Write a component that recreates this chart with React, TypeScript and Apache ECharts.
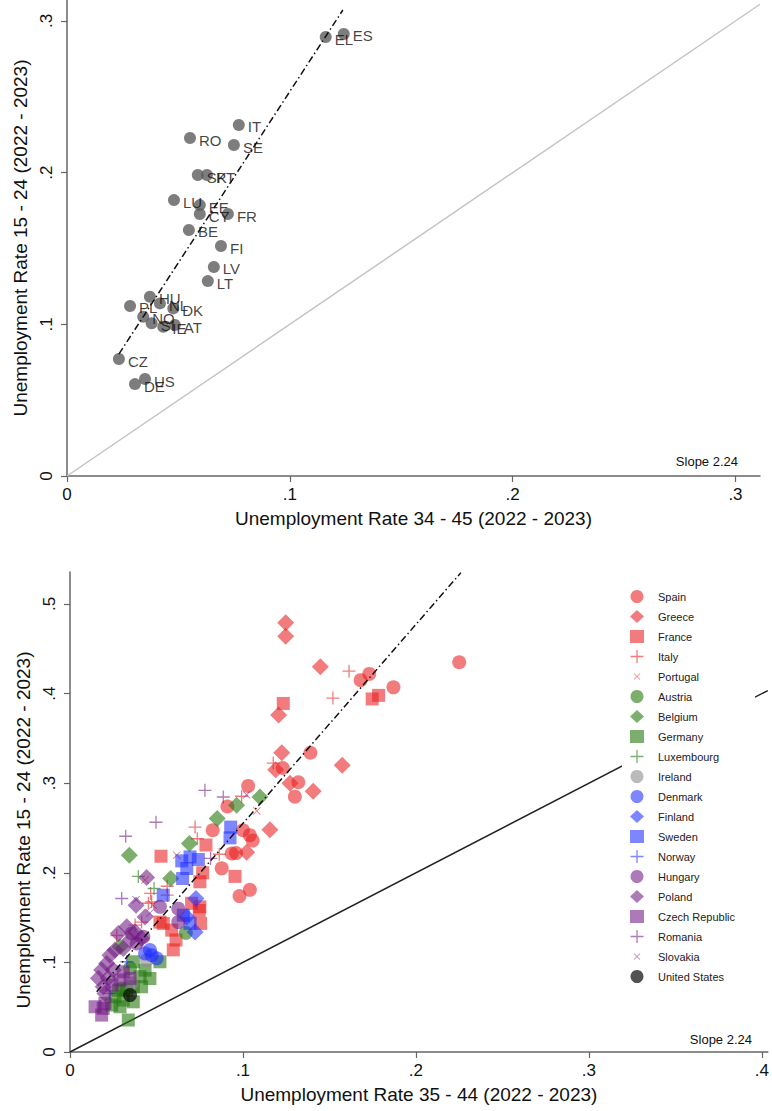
import React, { useEffect, useRef } from "react";
import * as echarts from "echarts";

// ---------- Top panel: country averages ----------
const topCodes = ["EL", "ES", "IT", "RO", "SE", "SK", "PT", "LU", "EE", "CY", "FR", "BE", "FI", "LV", "LT", "HU", "NL", "PL", "DK", "NO", "SI", "IE", "AT", "CZ", "US", "DE"];
const topX = [0.1161, 0.1242, 0.0771, 0.0552, 0.0749, 0.0587, 0.0628, 0.048, 0.0596, 0.0596, 0.0722, 0.0547, 0.0691, 0.0659, 0.0632, 0.0372, 0.0417, 0.0283, 0.0477, 0.0342, 0.038, 0.0432, 0.0484, 0.0233, 0.035, 0.0305];
const topY = [0.2894, 0.2914, 0.2314, 0.2228, 0.2182, 0.1984, 0.1984, 0.1819, 0.1786, 0.1727, 0.1727, 0.1622, 0.1516, 0.1378, 0.1285, 0.1182, 0.1138, 0.1121, 0.1105, 0.105, 0.1007, 0.0984, 0.0995, 0.0771, 0.0639, 0.0606];
const topFitX = [0.0233, 0.1238];
const topFitY = [0.0804, 0.3072];
const topDiag = [0, 0.311];

// ---------- Bottom panel: country-quarter observations ----------
const spain = [[0.225, 0.435], [0.173, 0.422], [0.168, 0.415], [0.187, 0.407], [0.139, 0.334], [0.123, 0.317], [0.132, 0.301], [0.103, 0.297], [0.130, 0.285], [0.091, 0.274], [0.0825, 0.2475], [0.100, 0.2475], [0.104, 0.242], [0.1056, 0.236], [0.0935, 0.2215], [0.096, 0.222], [0.0877, 0.205], [0.104, 0.181], [0.098, 0.174]];
const greece = [[0.1247, 0.479], [0.1247, 0.464], [0.1447, 0.430], [0.1206, 0.376], [0.1224, 0.334], [0.1189, 0.315], [0.1574, 0.320], [0.1406, 0.291], [0.1272, 0.300], [0.1156, 0.248], [0.1021, 0.223]];
const france = [[0.1233, 0.389], [0.1784, 0.398], [0.1747, 0.394], [0.0786, 0.231], [0.0526, 0.2185], [0.0767, 0.200], [0.0954, 0.196], [0.0751, 0.190], [0.0751, 0.162], [0.0703, 0.166], [0.0747, 0.158], [0.0755, 0.1435], [0.0539, 0.1435], [0.0588, 0.136], [0.0613, 0.125], [0.0597, 0.114], [0.052, 0.145]];
const italy = [[0.1613, 0.425], [0.152, 0.395], [0.1175, 0.3225], [0.0992, 0.2854], [0.0723, 0.251], [0.0736, 0.238], [0.0863, 0.2207], [0.0562, 0.185], [0.0466, 0.177], [0.0562, 0.175], [0.0472, 0.1676], [0.0453, 0.166], [0.0414, 0.145], [0.027, 0.130], [0.0376, 0.1416]];
const portugal = [[0.0617, 0.2196], [0.108, 0.269], [0.048, 0.164], [0.0434, 0.192]];
const austria = [[0.067, 0.133], [0.030, 0.071], [0.0347, 0.0936]];
const belgium = [[0.1098, 0.2846], [0.0963, 0.2754], [0.0851, 0.2605], [0.069, 0.2327], [0.0343, 0.2196], [0.0582, 0.1936], [0.0289, 0.1174]];
const germany = [[0.052, 0.1007], [0.0366, 0.1007], [0.0405, 0.084], [0.0462, 0.082], [0.0414, 0.0728], [0.0366, 0.0728], [0.0279, 0.069], [0.0328, 0.069], [0.026, 0.0617], [0.0308, 0.058], [0.0366, 0.056], [0.0241, 0.0524], [0.0289, 0.0505], [0.0337, 0.0357], [0.0434, 0.0914]];
const luxembourg = [[0.0486, 0.1825], [0.0395, 0.196]];
const ireland = [[0.0443, 0.1026], [0.0357, 0.0766]];
const denmark = [[0.0462, 0.1137], [0.0434, 0.110], [0.0501, 0.1045], [0.0472, 0.108]];
const finland = [[0.0728, 0.1713], [0.0675, 0.1508], [0.0723, 0.134]];
const sweden = [[0.0929, 0.251], [0.0925, 0.239], [0.0694, 0.2177], [0.0742, 0.2148], [0.0675, 0.2048], [0.0651, 0.1936], [0.0646, 0.2133], [0.0539, 0.175], [0.0655, 0.1527], [0.0694, 0.1435]];
const norway = [[0.0231, 0.0654], [0.0328, 0.1007]];
const hungary = [[0.052, 0.162], [0.0626, 0.160], [0.0626, 0.145], [0.0357, 0.1323], [0.0424, 0.1285], [0.0386, 0.1212]];
const poland = [[0.0443, 0.1948], [0.0382, 0.1639], [0.0434, 0.1508], [0.0328, 0.1397], [0.0376, 0.1341], [0.0279, 0.1323], [0.0414, 0.1268], [0.0347, 0.1249], [0.0308, 0.1156], [0.026, 0.1137], [0.0231, 0.1081], [0.0212, 0.0989], [0.0183, 0.0914], [0.025, 0.0914], [0.0164, 0.0822], [0.0221, 0.0822], [0.0192, 0.0728], [0.0202, 0.0654]];
const czech = [[0.0308, 0.0895], [0.0289, 0.0803], [0.0347, 0.0822], [0.0202, 0.0543], [0.0145, 0.0505], [0.0192, 0.0487], [0.0183, 0.0412], [0.0243, 0.0747]];
const romania = [[0.078, 0.292], [0.0886, 0.2846], [0.0497, 0.2564], [0.0322, 0.2408], [0.0813, 0.216], [0.0299, 0.1713]];
const slovakia = [[0.1021, 0.287], [0.0382, 0.170], [0.0462, 0.155]];
const unitedStates = [[0.0347, 0.0635]];
const bottomFitX = [0.0154, 0.226];
const bottomFitY = [0.0672, 0.535];
const bottomDiag = [0, 0.4034];

const PLUS = "path://M4.5,0H5.5V4.5H10V5.5H5.5V10H4.5V5.5H0V4.5H4.5Z";
const CROSS = "path://M0,0.8L0.8,0L5,4.2L9.2,0L10,0.8L5.8,5L10,9.2L9.2,10L5,5.8L0.8,10L0,9.2L4.2,5Z";
// legend-only icon: same cross, padded with invisible corner points so it draws smaller
const CROSS_ICON = "path://M-5,-5L-5,-5M15,15L15,15M0,0.8L0.8,0L5,4.2L9.2,0L10,0.8L5.8,5L10,9.2L9.2,10L5,5.8L0.8,10L0,9.2L4.2,5Z";

const RED = "rgba(232,28,30,0.72)";
const GREEN = "rgba(36,120,14,0.75)";
const GREY = "rgba(140,140,140,0.75)";
const BLUE = "rgba(30,45,255,0.72)";
const PURPLE = "rgba(112,24,132,0.72)";
const BLACK = "rgba(0,0,0,0.85)";

const countries = [
  { name: "Spain", data: spain, symbol: "circle", size: 14, color: RED },
  { name: "Greece", data: greece, symbol: "diamond", size: 17, color: RED },
  { name: "France", data: france, symbol: "rect", size: 13, color: RED },
  { name: "Italy", data: italy, symbol: PLUS, size: 13, color: RED },
  { name: "Portugal", data: portugal, symbol: CROSS, size: 8, color: RED },
  { name: "Austria", data: austria, symbol: "circle", size: 14, color: GREEN },
  { name: "Belgium", data: belgium, symbol: "diamond", size: 17, color: GREEN },
  { name: "Germany", data: germany, symbol: "rect", size: 13, color: GREEN },
  { name: "Luxembourg", data: luxembourg, symbol: PLUS, size: 13, color: GREEN },
  { name: "Ireland", data: ireland, symbol: "circle", size: 14, color: GREY },
  { name: "Denmark", data: denmark, symbol: "circle", size: 14, color: BLUE },
  { name: "Finland", data: finland, symbol: "diamond", size: 17, color: BLUE },
  { name: "Sweden", data: sweden, symbol: "rect", size: 13, color: BLUE },
  { name: "Norway", data: norway, symbol: PLUS, size: 13, color: BLUE },
  { name: "Hungary", data: hungary, symbol: "circle", size: 14, color: PURPLE },
  { name: "Poland", data: poland, symbol: "diamond", size: 17, color: PURPLE },
  { name: "Czech Republic", data: czech, symbol: "rect", size: 13, color: PURPLE },
  { name: "Romania", data: romania, symbol: PLUS, size: 13, color: PURPLE },
  { name: "Slovakia", data: slovakia, symbol: CROSS, size: 8, color: PURPLE },
  { name: "United States", data: unitedStates, symbol: "circle", size: 14, color: BLACK },
];

const FONT = "Liberation Sans, Arial, Helvetica, sans-serif";
const fmt = (v: number) => {
  const r = Math.round(v * 10) / 10;
  return r === 0 ? "0" : String(r).replace(/^0/, "");
};

const axisCommon = {
  type: "value" as const,
  interval: 0.1,
  min: 0,
  splitLine: { show: false },
  axisLine: { show: true, lineStyle: { color: "#666", width: 1.5 } },
  axisTick: { show: true, length: 6, lineStyle: { color: "#666", width: 1.2 } },
  nameTextStyle: { fontSize: 19, color: "#111", fontFamily: FONT },
};
const xLabel = { formatter: fmt, fontSize: 17, color: "#111", fontFamily: FONT, margin: 10, showMaxLabel: false };
const yLabel = { formatter: fmt, fontSize: 17, color: "#111", fontFamily: FONT, rotate: 90, margin: 12, showMaxLabel: false };

export default function App() {
  const ref = useRef<HTMLDivElement>(null);
  useEffect(() => {
    if (!ref.current) return;
    const chart = echarts.init(ref.current, null, { renderer: "svg" });
    const option: any = {
      animation: false,
      backgroundColor: "#fff",
      grid: [
        { left: 67, top: 0, width: 693, height: 476 },
        { left: 70, top: 572, width: 702, height: 480 },
      ],
      xAxis: [
        {
          ...axisCommon,
          gridIndex: 0,
          max: 0.311,
          name: "Unemployment Rate 34 - 45 (2022 - 2023)",
          nameLocation: "middle",
          nameGap: 33,
          axisLabel: xLabel,
        },
        {
          ...axisCommon,
          gridIndex: 1,
          max: 0.4034,
          name: "Unemployment Rate 35 - 44 (2022 - 2023)",
          nameLocation: "middle",
          nameGap: 33,
          axisLabel: xLabel,
        },
      ],
      yAxis: [
        {
          ...axisCommon,
          gridIndex: 0,
          max: 0.3138,
          name: "Unemployment Rate 15 - 24 (2022 - 2023)",
          nameLocation: "middle",
          nameGap: 22,
          axisLabel: yLabel,
        },
        {
          ...axisCommon,
          gridIndex: 1,
          max: 0.5357,
          name: "Unemployment Rate 15 - 24 (2022 - 2023)",
          nameLocation: "middle",
          nameGap: 22,
          nameTextStyle: { ...axisCommon.nameTextStyle, padding: [0, 36, 0, 0] },
          axisLabel: yLabel,
        },
      ],
      legend: {
        orient: "vertical",
        left: 622,
        top: 586,
        itemGap: 7,
        itemWidth: 14,
        itemHeight: 13,
        padding: [4, 20, 4, 8],
        backgroundColor: "#fff",
        z: 10,
        textStyle: { fontSize: 11, color: "#222", fontFamily: FONT, padding: [0, 0, 0, 9] },
        data: countries.map((c) =>
          c.symbol === CROSS ? { name: c.name, icon: CROSS_ICON } : { name: c.name }
        ),
      },
      graphic: [
        { type: "text", right: 34, top: 455, style: { text: "Slope 2.24", fontSize: 13, fill: "#111", fontFamily: FONT } },
        { type: "text", right: 20, top: 1033, style: { text: "Slope 2.24", fontSize: 13, fill: "#111", fontFamily: FONT } },
      ],
      series: [
        {
          type: "line",
          xAxisIndex: 0,
          yAxisIndex: 0,
          data: topDiag.map((v) => [v, v]),
          symbol: "none",
          lineStyle: { color: "#c4c4c4", width: 1.5 },
          silent: true,
        },
        {
          type: "line",
          xAxisIndex: 0,
          yAxisIndex: 0,
          data: topFitX.map((x, i) => [x, topFitY[i]]),
          symbol: "none",
          lineStyle: { color: "#111", width: 1.5, type: [7, 3, 1.5, 3] },
          silent: true,
        },
        {
          type: "scatter",
          xAxisIndex: 0,
          yAxisIndex: 0,
          symbolSize: 12,
          itemStyle: { color: "#5c5c5c" },
          data: topCodes.map((c, i) => ({ name: c, value: [topX[i], topY[i]] })),
          label: {
            show: true,
            position: "right",
            distance: 3,
            formatter: (p: any) => p.name,
            fontSize: 15,
            color: "#111",
            fontFamily: FONT,
            offset: [0, 2],
          },
        },
        {
          type: "line",
          xAxisIndex: 1,
          yAxisIndex: 1,
          data: bottomDiag.map((v) => [v, v]),
          symbol: "none",
          lineStyle: { color: "#222", width: 1.5 },
          silent: true,
        },
        {
          type: "line",
          xAxisIndex: 1,
          yAxisIndex: 1,
          data: bottomFitX.map((x, i) => [x, bottomFitY[i]]),
          symbol: "none",
          lineStyle: { color: "#111", width: 1.5, type: [7, 3, 1.5, 3] },
          silent: true,
          z: 5,
        },
        ...countries.map((c) => ({
          type: "scatter",
          name: c.name,
          xAxisIndex: 1,
          yAxisIndex: 1,
          symbol: c.symbol,
          symbolSize: c.size,
          itemStyle: { color: c.color },
          data: c.data,
          z: 3,
        })),
      ],
    };
    chart.setOption(option);
    return () => chart.dispose();
  }, []);
  return (
    <div
      ref={ref}
      style={{ position: "absolute", left: 0, top: 0, width: 772, height: 1111, background: "#fff" }}
    />
  );
}
